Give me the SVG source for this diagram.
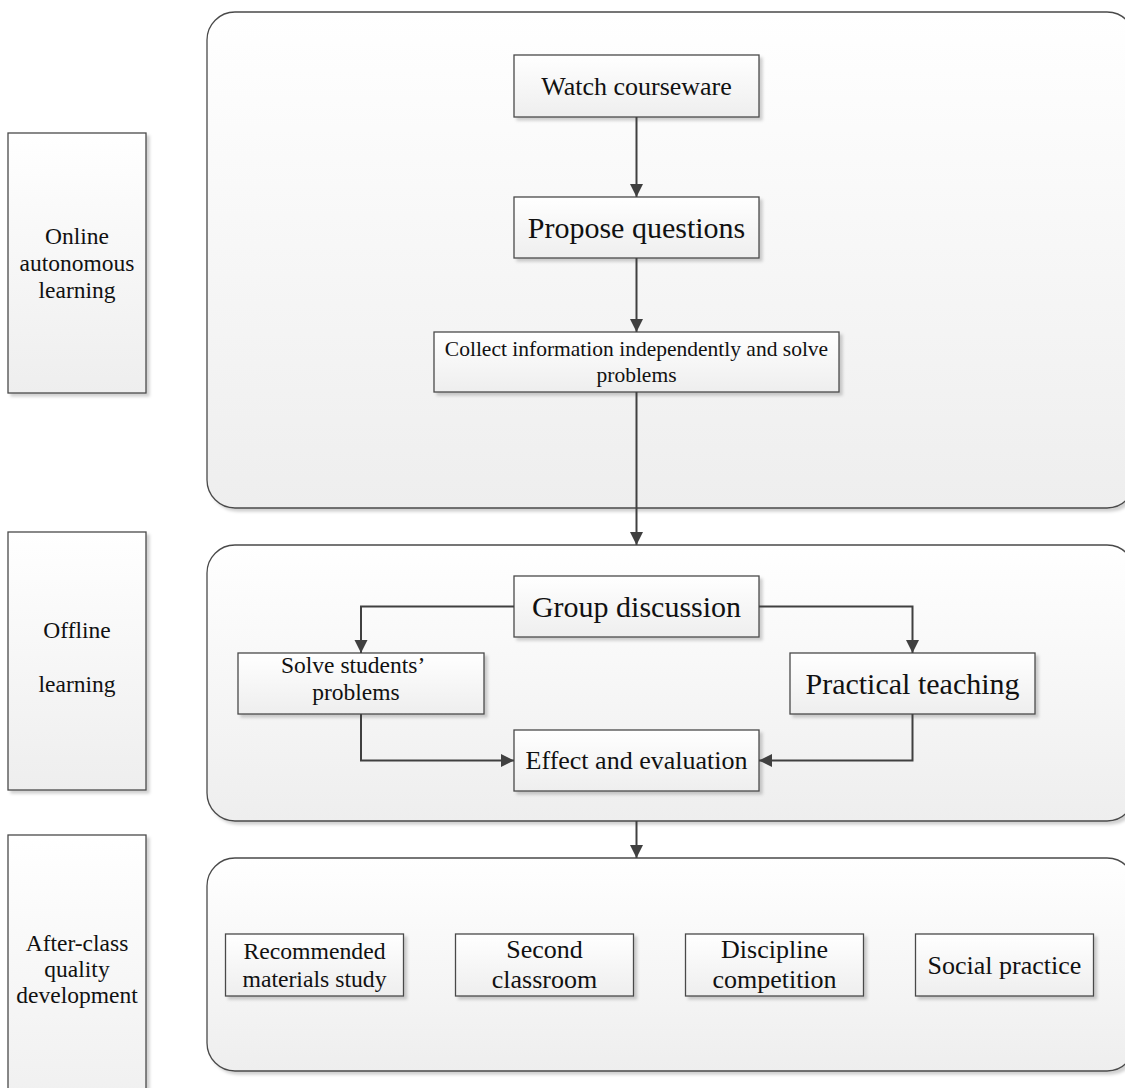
<svg xmlns="http://www.w3.org/2000/svg" width="1125" height="1088" viewBox="0 0 1125 1088">
<style>
.box{fill:url(#g);stroke:#4a4a4a;stroke-width:1.3;filter:url(#sh)}
.t{font-family:"Liberation Serif","Times New Roman",serif;fill:#111;text-anchor:middle}
.c{fill:none;stroke:#404040;stroke-width:2}
</style>
<defs>
<linearGradient id="g" x1="0" y1="0" x2="0" y2="1">
<stop offset="0" stop-color="#ffffff"/>
<stop offset="1" stop-color="#eeeeee"/>
</linearGradient>
<filter id="sh" x="-5%" y="-5%" width="115%" height="115%">
<feDropShadow dx="3" dy="3" stdDeviation="1.5" flood-color="#000" flood-opacity="0.18"/>
</filter>
<marker id="ah" markerUnits="userSpaceOnUse" markerWidth="14" markerHeight="14" refX="13" refY="6.5" orient="auto">
<path d="M0,0 L13,6.5 L0,13 z" fill="#404040"/>
</marker>
</defs>

<g id="phase-online"><rect class="box" x="8" y="133" width="138" height="260"/>
<text class="t" x="77" font-size="23.5"><tspan x="77" y="244">Online</tspan><tspan x="77" y="271">autonomous</tspan><tspan x="77" y="298">learning</tspan></text></g>
<g id="phase-offline"><rect class="box" x="8" y="532" width="138" height="258"/>
<text class="t" x="77" font-size="23.5"><tspan x="77" y="638">Offline</tspan><tspan x="77" y="692">learning</tspan></text></g>
<g id="phase-after"><rect class="box" x="8" y="835" width="138" height="300"/>
<text class="t" x="77" font-size="23.5"><tspan x="77" y="951">After-class</tspan><tspan x="77" y="977">quality</tspan><tspan x="77" y="1003">development</tspan></text></g>

<g id="panel-online"><rect class="box" x="207" y="12" width="928" height="496" rx="28"/></g>
<g id="panel-offline"><rect class="box" x="207" y="545" width="928" height="276" rx="28"/></g>
<g id="panel-after"><rect class="box" x="207" y="858" width="928" height="213" rx="28"/></g>

<g id="watch"><rect class="box" x="514" y="55" width="245" height="62"/>
<text class="t" x="636.5" y="95" font-size="26">Watch courseware</text></g>
<g id="propose"><rect class="box" x="514" y="197" width="245" height="61"/>
<text class="t" x="636.5" y="238" font-size="30">Propose questions</text></g>
<g id="collect"><rect class="box" x="434" y="332" width="405" height="60"/>
<text class="t" font-size="21.5"><tspan x="636.5" y="356">Collect information independently and solve</tspan><tspan x="636.5" y="382">problems</tspan></text></g>

<g id="group"><rect class="box" x="514" y="576" width="245" height="61"/>
<text class="t" x="636.5" y="617" font-size="30">Group discussion</text></g>
<g id="solve"><rect class="box" x="238" y="653" width="246" height="61"/>
<text class="t" font-size="23.5"><tspan x="281" y="673" text-anchor="start">Solve students’</tspan><tspan x="356" y="700">problems</tspan></text></g>
<g id="practical"><rect class="box" x="790" y="653" width="245" height="61"/>
<text class="t" x="912.5" y="694" font-size="30">Practical teaching</text></g>
<g id="effect"><rect class="box" x="514" y="730" width="245" height="61"/>
<text class="t" x="636.5" y="769" font-size="26">Effect and evaluation</text></g>

<g id="recommended"><rect class="box" x="225.5" y="934" width="178" height="62"/>
<text class="t" font-size="23.7"><tspan x="314.5" y="959">Recommended</tspan><tspan x="314.5" y="987">materials study</tspan></text></g>
<g id="second"><rect class="box" x="455.5" y="934" width="178" height="62"/>
<text class="t" font-size="26"><tspan x="544.5" y="958">Second</tspan><tspan x="544.5" y="988">classroom</tspan></text></g>
<g id="discipline"><rect class="box" x="685.5" y="934" width="178" height="62"/>
<text class="t" font-size="26"><tspan x="774.5" y="958">Discipline</tspan><tspan x="774.5" y="988">competition</tspan></text></g>
<g id="social"><rect class="box" x="915.5" y="934" width="178" height="62"/>
<text class="t" x="1004.5" y="974" font-size="26">Social practice</text></g>

<g id="connectors">
<path class="c" d="M636.5,117 V197" marker-end="url(#ah)"/>
<path class="c" d="M636.5,258 V332" marker-end="url(#ah)"/>
<path class="c" d="M636.5,392 V545" marker-end="url(#ah)"/>
<path class="c" d="M514,606.5 H361 V653" marker-end="url(#ah)"/>
<path class="c" d="M759,606.5 H912.5 V653" marker-end="url(#ah)"/>
<path class="c" d="M361,714 V760.5 H514" marker-end="url(#ah)"/>
<path class="c" d="M912.5,714 V760.5 H759" marker-end="url(#ah)"/>
<path class="c" d="M636.5,821 V858" marker-end="url(#ah)"/>
</g>
</svg>
